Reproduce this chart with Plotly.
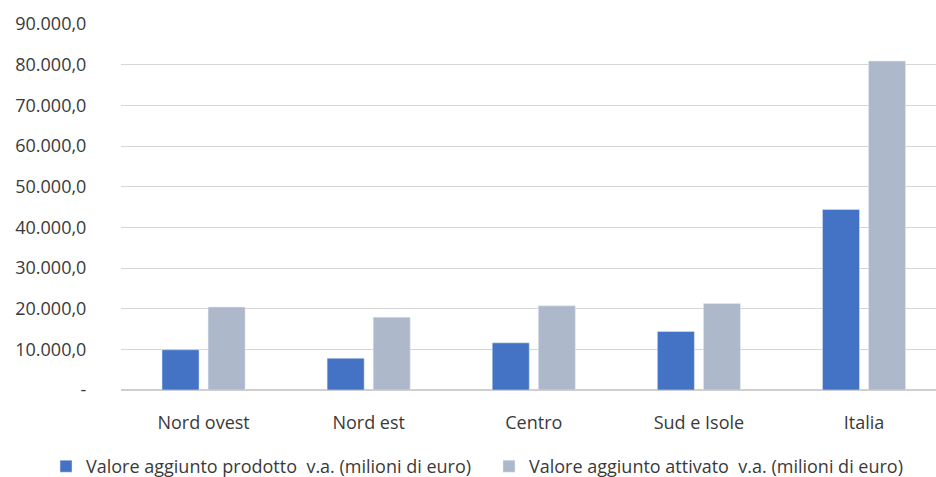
import plotly.graph_objects as go

categories = ["Nord ovest", "Nord est", "Centro", "Sud e Isole", "Italia"]
va_prodotto = [9900, 7800, 11600, 14400, 44400]
va_attivato = [20400, 17900, 20700, 21300, 80900]

series_names = [
    "Valore aggiunto prodotto  v.a. (milioni di euro)",
    "Valore aggiunto attivato  v.a. (milioni di euro)",
]
tick_values = [0, 10000, 20000, 30000, 40000, 50000, 60000, 70000, 80000, 90000]
tick_labels = ["-", "10.000,0", "20.000,0", "30.000,0", "40.000,0", "50.000,0",
               "60.000,0", "70.000,0", "80.000,0", "90.000,0"]

FONT = "Open Sans"
TEXT = "#3A3A3A"
W, H = 936, 477

fig = go.Figure()
fig.add_trace(go.Bar(x=categories, y=va_prodotto, name=series_names[0],
                     marker=dict(color="#4472C4"), legend="legend"))
fig.add_trace(go.Bar(x=categories, y=va_attivato, name=series_names[1],
                     marker=dict(color="#ADB9CA"), legend="legend2"))

legend_common = dict(orientation="h", xanchor="left",
                     yref="container", y=0.022, yanchor="middle",
                     font=dict(family=FONT, size=18, color=TEXT),
                     itemwidth=30, bgcolor="rgba(0,0,0,0)")

fig.update_layout(
    width=W, height=H,
    margin=dict(l=121, r=0, t=24, b=87, autoexpand=False),
    paper_bgcolor="white", plot_bgcolor="white",
    barmode="group", bargap=0.442, bargroupgap=0.196,
    font=dict(family=FONT, size=18, color=TEXT),
    showlegend=True,
    legend=dict(xref="container", x=46 / W, **legend_common),
    legend2=dict(xref="container", x=489 / W, **legend_common),
)
fig.update_xaxes(
    range=[-0.5, 4.436],
    showgrid=False, showline=False, zeroline=False,
    ticks="outside", ticklen=16, tickcolor="rgba(0,0,0,0)",
    tickfont=dict(family=FONT, size=18, color=TEXT),
)
fig.update_yaxes(
    range=[0, 90000],
    tickvals=tick_values, ticktext=tick_labels,
    showgrid=True, gridcolor="#D6D6D6", gridwidth=1.3,
    zeroline=True, zerolinecolor="#CFCFCF", zerolinewidth=1.5,
    showline=False,
    ticks="outside", ticklen=30, tickcolor="rgba(0,0,0,0)",
    tickfont=dict(family=FONT, size=18, color=TEXT),
)

fig.write_html("out.html")
